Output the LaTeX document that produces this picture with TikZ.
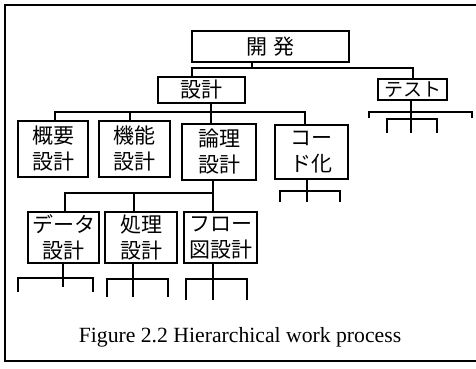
\documentclass[tikz,border=0pt]{standalone}
\usepackage{fontspec}
\setmainfont{Liberation Serif}
\newfontfamily\jp{Noto Sans CJK JP}
\begin{document}
\begin{tikzpicture}[x=1pt,y=-1pt,
  box/.style={draw,line width=1.1pt,inner sep=0pt,align=center,
    font=\jp\fontsize{21}{26}\selectfont},
  ln/.style={line width=1.1pt}]
\useasboundingbox (0,0) rectangle (476,369);
% frame
\draw[line width=1.2pt] (480,5) -- (5,5) -- (5,361) -- (480,361);
% nodes
\node[box,minimum width=157pt,minimum height=31pt] (kaihatsu) at (270.5,46.5) {開\,\,発};
\node[box,minimum width=87pt,minimum height=26pt] (sekkei) at (201.5,90) {設計};
\node[box,minimum width=69pt,minimum height=21pt,font=\jp\fontsize{19}{24}\selectfont] (test) at (412.5,89.5) {テスト};
\node[box,minimum width=70pt,minimum height=56pt] (gaiyo) at (53,149) {概要\\設計};
\node[box,minimum width=71pt,minimum height=56pt] (kinou) at (134.5,149) {機能\\設計};
\node[box,minimum width=74pt,minimum height=56pt] (ronri) at (219,152) {論理\\設計};
\node[box,minimum width=73pt,minimum height=54pt] (code) at (311.5,152) {コー\\ド化};
\node[box,minimum width=71pt,minimum height=51pt] (data) at (63.5,237.5) {データ\\設計};
\node[box,minimum width=72pt,minimum height=51pt] (shori) at (141,237.5) {処理\\設計};
\node[box,minimum width=73pt,minimum height=51pt] (flow) at (220.5,237.5) {フロー\\図設計};
% caption
\node[font=\fontsize{21.7}{26}\selectfont] (cap) at (240,337) {Figure 2.2 Hierarchical work process};
% level 1
\coordinate (k0) at (252,68);
\coordinate (kl) at (192,68);
\coordinate (kr) at (413,68);
\draw[ln] (k0 |- kaihatsu.south) -- (k0);
\draw[ln] (kl |- sekkei.north) -- (kl) -- (kr) -- (kr |- test.north);
% level 2 under sekkei
\coordinate (s0) at (211,112);
\coordinate (sl) at (55,112);
\coordinate (s2) at (130,112);
\coordinate (sr) at (305,112);
\draw[ln] (s0 |- sekkei.south) -- (s0 |- ronri.north);
\draw[ln] (sl |- gaiyo.north) -- (sl) -- (sr) -- (sr |- code.north);
\draw[ln] (s2) -- (s2 |- kinou.north);
% test subtree
\coordinate (t0) at (411,133);
\coordinate (ta1) at (369,112);
\coordinate (ta2) at (472,112);
\coordinate (tb1) at (387,119);
\coordinate (tb2) at (437,119);
\draw[ln] (t0 |- test.south) -- (t0);
\draw[ln] (ta1 |- 0,118) -- (ta1) -- (ta2) -- (ta2 |- 0,118);
\draw[ln] (tb1 |- t0) -- (tb1) -- (tb2) -- (tb2 |- t0);
% code subtree
\coordinate (c0) at (307,202);
\coordinate (c1) at (280,191);
\coordinate (c2) at (340,191);
\draw[ln] (c0 |- code.south) -- (c0);
\draw[ln] (c1 |- c0) -- (c1) -- (c2) -- (c2 |- c0);
% ronri subtree
\coordinate (r0) at (213,193);
\coordinate (r1) at (65,193);
\coordinate (r2) at (134,193);
\draw[ln] (r0 |- ronri.south) -- (r0 |- flow.north);
\draw[ln] (r1 |- data.north) -- (r1) -- (r0);
\draw[ln] (r2) -- (r2 |- shori.north);
% data subtree
\coordinate (d0) at (63,287);
\coordinate (d1) at (18,278);
\coordinate (d2) at (93,278);
\draw[ln] (d0 |- data.south) -- (d0);
\draw[ln] (d1 |- 0,292) -- (d1) -- (d2) -- (d2 |- 0,292);
% shori subtree
\coordinate (p0) at (133,297);
\coordinate (p1) at (107,279);
\coordinate (p2) at (168,279);
\draw[ln] (p0 |- shori.south) -- (p0);
\draw[ln] (p1 |- p0) -- (p1) -- (p2) -- (p2 |- p0);
% flow subtree
\coordinate (f0) at (213,300);
\coordinate (f1) at (186,279);
\coordinate (f2) at (247,279);
\draw[ln] (f0 |- flow.south) -- (f0);
\draw[ln] (f1 |- f0) -- (f1) -- (f2) -- (f2 |- f0);
\end{tikzpicture}
\end{document}
